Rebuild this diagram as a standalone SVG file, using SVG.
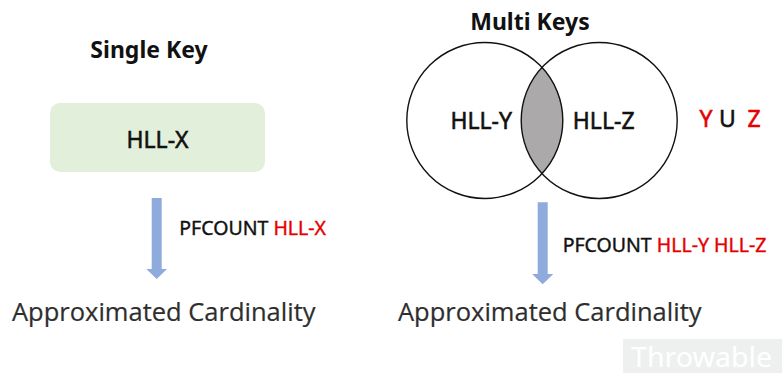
<svg xmlns="http://www.w3.org/2000/svg" width="782" height="373" viewBox="0 0 782 373">
<style>
  .title { font-family: "Noto Sans", "Open Sans", sans-serif; font-weight: bold; font-size: 23px; fill: #111; text-anchor: middle; }
  .key { font-family: "Noto Sans", "Open Sans", sans-serif; font-size: 23px; fill: #111; stroke: #111; stroke-width: 0.55; text-anchor: middle; }
  .cmd { font-family: "Noto Sans", "Open Sans", sans-serif; font-size: 19.5px; fill: #111; stroke: #111; stroke-width: 0.4; }
  .red { fill: #e60000; stroke: #e60000; }
  .result { font-family: "Open Sans", "Noto Sans", sans-serif; font-size: 25.5px; fill: #2e2e2e; stroke: #2e2e2e; stroke-width: 0.2; }
  .venn { fill: none; stroke: #111; stroke-width: 1.4; }
  .arrow { fill: #8faadc; }
</style>
<rect width="782" height="373" fill="#ffffff"/>

<g id="single-key-title">
  <text class="title" x="149" y="58">Single Key</text>
</g>
<g id="hll-x">
  <rect x="50" y="103" width="215" height="69" rx="10" ry="10" fill="#e2efda"/>
  <text class="key" x="157.5" y="148" font-size="25">HLL-X</text>
</g>
<g id="result-left">
  <text class="result" x="12" y="321">Approximated Cardinality</text>
</g>

<g id="multi-keys-title">
  <text class="title" x="530" y="30">Multi Keys</text>
</g>
<g id="venn">
  <path d="M 542.3 67.4 A 78 78 0 0 1 542.3 173.6 A 78 78 0 0 1 542.3 67.4 Z" fill="#aba9a9"/>
  <circle class="venn" cx="484.8" cy="120.5" r="78"/>
  <circle class="venn" cx="599.2" cy="120.5" r="78"/>
</g>
<g id="hll-y">
  <text class="key" x="481.2" y="129">HLL-Y</text>
</g>
<g id="hll-z">
  <text class="key" x="603.7" y="129">HLL-Z</text>
</g>
<g id="union">
  <text class="key red" x="706" y="127" font-size="22" stroke-width="0.8">Y</text>
  <text class="key" x="727.5" y="127" font-size="22" stroke-width="0.8">U</text>
  <text class="key red" x="754" y="127" font-size="22" stroke-width="0.8">Z</text>
</g>
<g id="result-right">
  <text class="result" x="398" y="321">Approximated Cardinality</text>
</g>

<g id="connectors">
  <polygon class="arrow" points="151.7,198 161.7,198 161.7,269 167,269 156.7,279 146.4,269 151.7,269"/>
  <text class="cmd" x="179.3" y="235">PFCOUNT <tspan class="red">HLL-X</tspan></text>
  <polygon class="arrow" points="537.7,202.3 547.7,202.3 547.7,274 553.3,274 542.7,284.3 532.1,274 537.7,274"/>
  <text class="cmd" x="562.7" y="252.3">PFCOUNT <tspan class="red">HLL-Y HLL-Z</tspan></text>
</g>

<g id="watermark">
  <rect x="623" y="339" width="159" height="34" fill="#eef0f0"/>
  <text x="631" y="366.5" font-family="Noto Sans, sans-serif" font-size="28" fill="#ffffff" textLength="141" lengthAdjust="spacingAndGlyphs">Throwable</text>
</g>
</svg>
